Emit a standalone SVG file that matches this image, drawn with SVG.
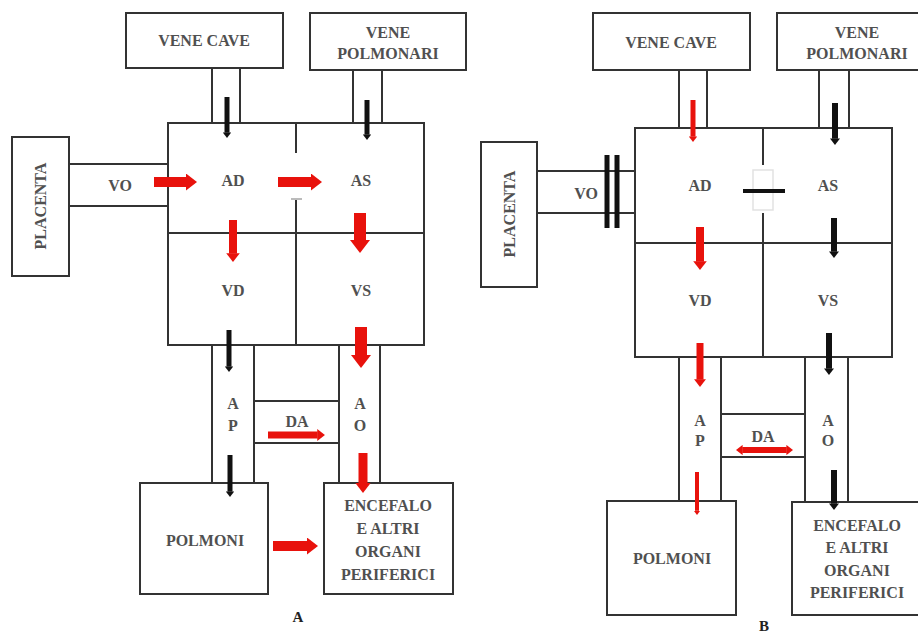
<svg xmlns="http://www.w3.org/2000/svg" width="918" height="634" viewBox="0 0 918 634">
<style>
.box{fill:#fff;stroke:#333;stroke-width:2}
.ln{stroke:#333;stroke-width:2;fill:none}
.t{font-family:"Liberation Serif","DejaVu Serif",serif;font-size:16px;font-weight:bold;fill:#505050;text-anchor:middle}
.lbl{font-family:"Liberation Serif","DejaVu Serif",serif;font-size:15px;font-weight:bold;fill:#222;text-anchor:middle}
.r{stroke:#e8120c;fill:none;marker-end:url(#hr)}
.k{stroke:#111;fill:none;marker-end:url(#hk)}
.bar{stroke:#111;stroke-width:5}
</style>
<defs>
<marker id="hr" viewBox="0 0 11 17" refX="0.5" refY="8.5" markerWidth="1.1" markerHeight="1.7" markerUnits="strokeWidth" orient="auto-start-reverse"><path d="M0,0 L11,8.5 L0,17 z" fill="#e8120c"/></marker>
<marker id="hk" viewBox="0 0 11 17" refX="0.5" refY="8.5" markerWidth="1.1" markerHeight="1.7" markerUnits="strokeWidth" orient="auto"><path d="M0,0 L11,8.5 L0,17 z" fill="#111"/></marker>
</defs>
<rect width="918" height="634" fill="#fff"/>

<!-- Diagram A -->
<g id="A-vene-cave"><rect class="box" x="126" y="13" width="157" height="55"/><text class="t" x="204" y="46">VENE CAVE</text></g>
<g id="A-vene-polmonari"><rect class="box" x="310" y="13" width="156" height="57"/><text class="t" x="388" y="38">VENE</text><text class="t" x="388" y="59">POLMONARI</text></g>
<g id="A-placenta"><rect class="box" x="12" y="137" width="57" height="139"/><text class="t" transform="translate(46,206) rotate(-90)">PLACENTA</text></g>
<g id="A-cuore"><rect class="box" x="168" y="123" width="256" height="222"/>
<line class="ln" x1="168" y1="233" x2="424" y2="233"/>
<line class="ln" x1="296" y1="123" x2="296" y2="153"/>
<line class="ln" x1="296" y1="198" x2="296" y2="345"/>
<line x1="291" y1="199" x2="302" y2="199" stroke="#bbb" stroke-width="2"/>
<text class="t" x="233" y="186">AD</text><text class="t" x="361" y="186">AS</text>
<text class="t" x="233" y="296">VD</text><text class="t" x="361" y="296">VS</text></g>
<g id="A-polmoni"><rect class="box" x="140" y="483" width="128" height="111"/><text class="t" x="205" y="546">POLMONI</text></g>
<g id="A-encefalo"><rect class="box" x="324" y="483" width="129" height="111"/>
<text class="t" x="388" y="511">ENCEFALO</text><text class="t" x="388" y="534">E ALTRI</text><text class="t" x="388" y="557">ORGANI</text><text class="t" x="388" y="580">PERIFERICI</text></g>
<text class="lbl" x="298" y="622">A</text>

<g id="A-connectors">
<line class="ln" x1="212" y1="68" x2="212" y2="123"/><line class="ln" x1="240" y1="68" x2="240" y2="123"/>
<line class="ln" x1="353" y1="70" x2="353" y2="123"/><line class="ln" x1="382" y1="70" x2="382" y2="123"/>
<line class="ln" x1="69" y1="164" x2="168" y2="164"/><line class="ln" x1="69" y1="206" x2="168" y2="206"/>
<line class="ln" x1="212" y1="345" x2="212" y2="483"/><line class="ln" x1="254" y1="345" x2="254" y2="483"/>
<line class="ln" x1="339" y1="345" x2="339" y2="483"/><line class="ln" x1="380" y1="345" x2="380" y2="483"/>
<line class="ln" x1="254" y1="401" x2="339" y2="401"/><line class="ln" x1="254" y1="443" x2="339" y2="443"/>
<text class="t" x="120" y="191">VO</text>
<text class="t" x="233" y="409">A</text><text class="t" x="233" y="431">P</text>
<text class="t" x="360" y="409">A</text><text class="t" x="360" y="431">O</text>
<text class="t" x="297" y="427">DA</text>
<line class="k" stroke-width="5" x1="227" y1="97" x2="227" y2="132.7"/>
<line class="k" stroke-width="5" x1="367" y1="100" x2="367" y2="134.7"/>
<line class="r" stroke-width="10" x1="154" y1="182" x2="186.5" y2="182"/>
<line class="r" stroke-width="10" x1="278" y1="182" x2="311.5" y2="182"/>
<line class="r" stroke-width="8" x1="233" y1="220" x2="233" y2="253.6"/>
<line class="r" stroke-width="12" x1="360" y1="213" x2="360" y2="240.4"/>
<line class="k" stroke-width="5" x1="229" y1="330" x2="229" y2="366.7"/>
<line class="r" stroke-width="12" x1="361" y1="327" x2="361" y2="355.4"/>
<line class="r" stroke-width="7" x1="268" y1="435" x2="317.6" y2="435"/>
<line class="k" stroke-width="5" x1="230" y1="455" x2="230" y2="491.7"/>
<line class="r" stroke-width="9" x1="363" y1="453" x2="363" y2="483.5"/>
<line class="r" stroke-width="10" x1="273" y1="546" x2="307.5" y2="546"/>
</g>

<!-- Diagram B -->
<g id="B-vene-cave"><rect class="box" x="593" y="13" width="157" height="57"/><text class="t" x="671" y="48">VENE CAVE</text></g>
<g id="B-vene-polmonari"><rect class="box" x="777" y="13" width="160" height="57"/><text class="t" x="857" y="38">VENE</text><text class="t" x="857" y="59">POLMONARI</text></g>
<g id="B-placenta"><rect class="box" x="481" y="142" width="56" height="145"/><text class="t" transform="translate(515,214) rotate(-90)">PLACENTA</text></g>
<g id="B-cuore"><rect class="box" x="635" y="128" width="257" height="229"/>
<line class="ln" x1="635" y1="243" x2="892" y2="243"/>
<line class="ln" x1="763" y1="128" x2="763" y2="165"/>
<line class="ln" x1="763" y1="213" x2="763" y2="357"/>
<rect x="753" y="170" width="20" height="40" fill="none" stroke="#e2e2e2" stroke-width="1.5"/>
<line x1="743" y1="191" x2="785" y2="191" stroke="#111" stroke-width="4"/>
<text class="t" x="700" y="191">AD</text><text class="t" x="828" y="191">AS</text>
<text class="t" x="700" y="306">VD</text><text class="t" x="828" y="306">VS</text></g>
<g id="B-polmoni"><rect class="box" x="607" y="501" width="129" height="114"/><text class="t" x="672" y="564">POLMONI</text></g>
<g id="B-encefalo"><rect class="box" x="792" y="502" width="140" height="113"/>
<text class="t" x="857" y="531">ENCEFALO</text><text class="t" x="857" y="553">E ALTRI</text><text class="t" x="857" y="576">ORGANI</text><text class="t" x="857" y="598">PERIFERICI</text></g>
<text class="lbl" x="764" y="631">B</text>

<g id="B-connectors">
<line class="ln" x1="679" y1="70" x2="679" y2="128"/><line class="ln" x1="707" y1="70" x2="707" y2="128"/>
<line class="ln" x1="819" y1="70" x2="819" y2="128"/><line class="ln" x1="849" y1="70" x2="849" y2="128"/>
<line class="ln" x1="537" y1="171" x2="635" y2="171"/><line class="ln" x1="537" y1="213" x2="635" y2="213"/>
<line class="ln" x1="679" y1="357" x2="679" y2="501"/><line class="ln" x1="721" y1="357" x2="721" y2="501"/>
<line class="ln" x1="805" y1="357" x2="805" y2="502"/><line class="ln" x1="848" y1="357" x2="848" y2="502"/>
<line class="ln" x1="721" y1="414" x2="805" y2="414"/><line class="ln" x1="721" y1="457" x2="805" y2="457"/>
<line class="bar" x1="607" y1="155" x2="607" y2="228"/><line class="bar" x1="617" y1="155" x2="617" y2="228"/>
<text class="t" x="586" y="199">VO</text>
<text class="t" x="700" y="426">A</text><text class="t" x="700" y="446">P</text>
<text class="t" x="828" y="426">A</text><text class="t" x="828" y="446">O</text>
<text class="t" x="763" y="442">DA</text>
<line class="r" stroke-width="5" x1="693" y1="100" x2="693" y2="136.7"/>
<line class="k" stroke-width="6" x1="835" y1="103" x2="835" y2="138.7"/>
<line class="r" stroke-width="8" x1="700" y1="227" x2="700" y2="261.6"/>
<line class="k" stroke-width="6" x1="834" y1="218" x2="834" y2="251.7"/>
<line class="r" stroke-width="7" x1="700" y1="343" x2="700" y2="379.6"/>
<line class="k" stroke-width="6" x1="829" y1="333" x2="829" y2="368.7"/>
<line class="r" stroke-width="6" style="marker-start:url(#hr)" x1="742.3" y1="450" x2="786.7" y2="450"/>
<line class="r" stroke-width="4" x1="697" y1="472" x2="697" y2="510.8"/>
<line class="k" stroke-width="6" x1="834" y1="470" x2="834" y2="503.7"/>
</g>
</svg>
